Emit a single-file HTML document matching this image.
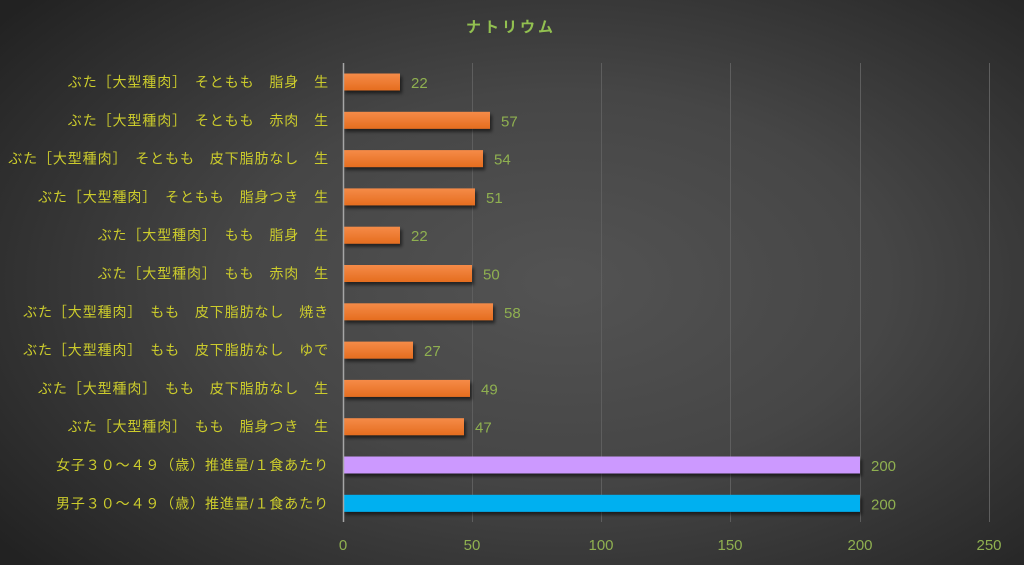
<!DOCTYPE html>
<html><head><meta charset="utf-8"><style>
html,body{margin:0;padding:0;width:1024px;height:565px;overflow:hidden}
body{background:radial-gradient(ellipse 70% 75% at 55% 50%,#535353 0%,#464646 45%,#2c2c2c 85%,#222 100%)}
svg{position:absolute;left:0;top:0}
text{font-family:"Liberation Sans","Noto Sans CJK JP",sans-serif}
</style></head><body>
<svg width="1024" height="565" viewBox="0 0 1024 565">
<defs>
<linearGradient id="og" x1="0" y1="0" x2="0" y2="1"><stop offset="0" stop-color="#f58b48"/><stop offset="1" stop-color="#e56d1f"/></linearGradient>
<filter id="sh" x="-5%" y="-30%" width="115%" height="180%"><feDropShadow dx="2" dy="3" stdDeviation="1.5" flood-color="#000" flood-opacity="0.55"/></filter>
</defs>
<text x="511" y="32" text-anchor="middle" font-size="15" font-weight="bold" fill="#92c050" letter-spacing="3">ナトリウム</text>
<g stroke="#5e5e5e" stroke-width="1">
<line x1="472.5" y1="63" x2="472.5" y2="522"/><line x1="601.5" y1="63" x2="601.5" y2="522"/>
<line x1="730.5" y1="63" x2="730.5" y2="522"/><line x1="860.5" y1="63" x2="860.5" y2="522"/>
<line x1="989.5" y1="63" x2="989.5" y2="522"/>
</g>
<g filter="url(#sh)">
<rect x="343" y="73.5" width="57" height="17" fill="url(#og)"/>
<rect x="343" y="111.8" width="147" height="17" fill="url(#og)"/>
<rect x="343" y="150.1" width="140" height="17" fill="url(#og)"/>
<rect x="343" y="188.4" width="132" height="17" fill="url(#og)"/>
<rect x="343" y="226.7" width="57" height="17" fill="url(#og)"/>
<rect x="343" y="265" width="129" height="17" fill="url(#og)"/>
<rect x="343" y="303.3" width="150" height="17" fill="url(#og)"/>
<rect x="343" y="341.6" width="70" height="17" fill="url(#og)"/>
<rect x="343" y="379.9" width="127" height="17" fill="url(#og)"/>
<rect x="343" y="418.2" width="121" height="17" fill="url(#og)"/>
<rect x="343" y="456.5" width="517" height="17" fill="#cc99ff"/>
<rect x="343" y="494.8" width="517" height="17" fill="#00b0f0"/>
</g>
<line x1="343.5" y1="63" x2="343.5" y2="522" stroke="#a6a6a6" stroke-width="1.5"/>
<g font-size="14" fill="#cccc2c" text-anchor="end" letter-spacing="0.9">
<text x="329" y="87">ぶた［大型種肉］　そともも　脂身　生</text>
<text x="329" y="125.3">ぶた［大型種肉］　そともも　赤肉　生</text>
<text x="329" y="163.6">ぶた［大型種肉］　そともも　皮下脂肪なし　生</text>
<text x="329" y="201.9">ぶた［大型種肉］　そともも　脂身つき　生</text>
<text x="329" y="240.2">ぶた［大型種肉］　もも　脂身　生</text>
<text x="329" y="278.5">ぶた［大型種肉］　もも　赤肉　生</text>
<text x="329" y="316.8">ぶた［大型種肉］　もも　皮下脂肪なし　焼き</text>
<text x="329" y="355.1">ぶた［大型種肉］　もも　皮下脂肪なし　ゆで</text>
<text x="329" y="393.4">ぶた［大型種肉］　もも　皮下脂肪なし　生</text>
<text x="329" y="431.7">ぶた［大型種肉］　もも　脂身つき　生</text>
<text x="329" y="470">女子３０～４９（歳）推進量/１食あたり</text>
<text x="329" y="508.3">男子３０～４９（歳）推進量/１食あたり</text>
</g>
<g font-size="15" fill="#8fb050">
<text x="411" y="88">22</text><text x="501" y="126.3">57</text><text x="494" y="164.6">54</text>
<text x="486" y="202.9">51</text><text x="411" y="241.2">22</text><text x="483" y="279.5">50</text>
<text x="504" y="317.8">58</text><text x="424" y="356.1">27</text><text x="481" y="394.4">49</text>
<text x="475" y="432.7">47</text><text x="871" y="471">200</text><text x="871" y="509.3">200</text>
</g>
<g font-size="15" fill="#8fb050" text-anchor="middle">
<text x="343" y="550">0</text><text x="472" y="550">50</text><text x="601" y="550">100</text>
<text x="730" y="550">150</text><text x="860" y="550">200</text><text x="989" y="550">250</text>
</g>
</svg>
</body></html>
